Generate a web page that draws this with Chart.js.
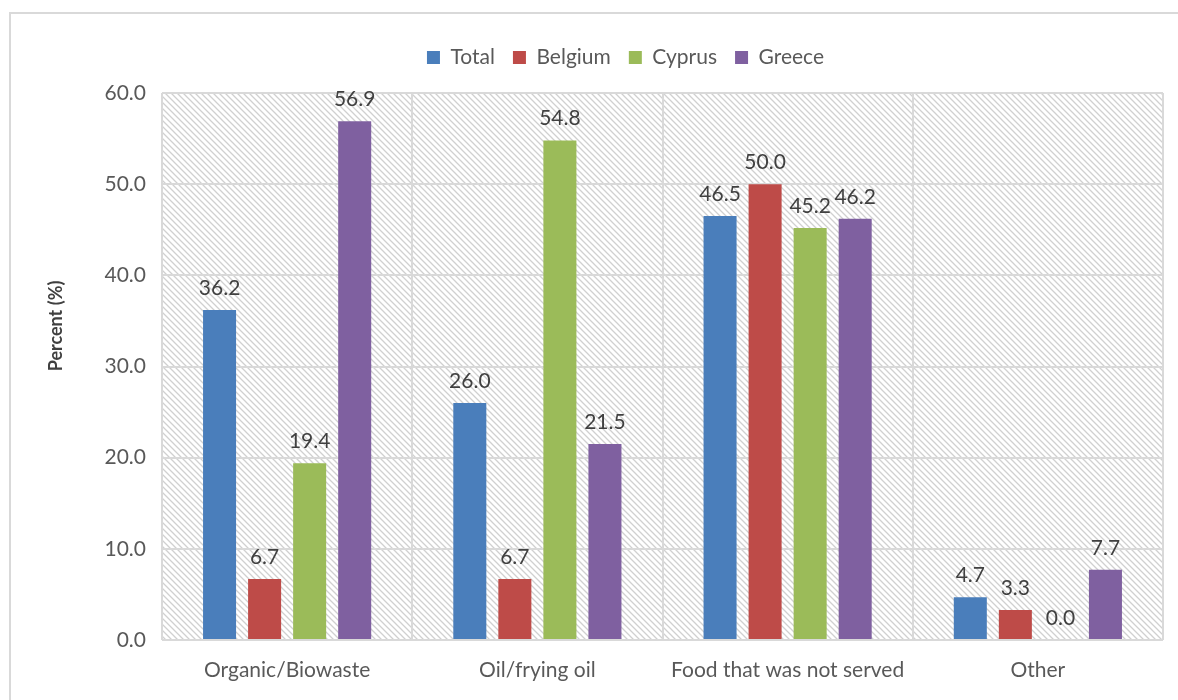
<!DOCTYPE html>
<html>
<head>
<meta charset="utf-8">
<script src="https://cdn.jsdelivr.net/npm/chart.js@4.4.0/dist/chart.umd.min.js"></script>
<style>
html,body{margin:0;padding:0;background:#fff;}
#wrap{position:relative;width:1178px;height:700px;}
#frame{position:absolute;left:9px;top:12px;width:1200px;height:800px;border:2px solid #d9d9d9;box-sizing:border-box;}
canvas{position:absolute;left:0;top:0;}
</style>
</head>
<body>
<div id="wrap"><div id="frame"></div><canvas id="c" width="1178" height="700"></canvas></div>
<script>
const categories = ["Organic/Biowaste", "Oil/frying oil", "Food that was not served", "Other"];
const totalValues = [36.2, 26.0, 46.5, 4.7];
const belgiumValues = [6.7, 6.7, 50.0, 3.3];
const cyprusValues = [19.4, 54.8, 45.2, 0.0];
const greeceValues = [56.9, 21.5, 46.2, 7.7];
const seriesNames = ["Total", "Belgium", "Cyprus", "Greece"];
const seriesColors = ["#4A7EBB", "#BE4B48", "#9BBB59", "#7F60A0"];
const yMin = 0, yMax = 60, yStep = 10;
const yTitle = "Percent (%)";

const FONT = "Lato, 'Open Sans', sans-serif";
const FS = 21;

function makeHatch(){
  const s = 6;
  const c = document.createElement('canvas');
  c.width = s; c.height = s;
  const g = c.getContext('2d');
  g.fillStyle = '#ffffff'; g.fillRect(0,0,s,s);
  g.strokeStyle = '#d0d0d0'; g.lineWidth = 1.3;
  g.beginPath();
  g.moveTo(-1,-1); g.lineTo(s+1,s+1);
  g.moveTo(-1,s-1); g.lineTo(1,s+1);
  g.moveTo(s-1,-1); g.lineTo(s+1,1);
  g.stroke();
  return c;
}

const hatchPlugin = {
  id: 'hatch',
  beforeDraw(chart){
    const {ctx, chartArea:a} = chart;
    ctx.save();
    ctx.fillStyle = ctx.createPattern(makeHatch(), 'repeat');
    ctx.fillRect(a.left, a.top, a.right-a.left, a.bottom-a.top);
    ctx.restore();
  }
};

const labelPlugin = {
  id: 'valueLabels',
  afterDatasetsDraw(chart){
    const ctx = chart.ctx;
    ctx.save();
    ctx.font = FS + "px " + FONT;
    ctx.fillStyle = '#404040';
    ctx.textAlign = 'center';
    ctx.textBaseline = 'alphabetic';
    chart.data.datasets.forEach((ds, i) => {
      const meta = chart.getDatasetMeta(i);
      meta.data.forEach((el, j) => {
        ctx.fillText(Number(ds.data[j]).toFixed(1), el.x, el.y - 15);
      });
    });
    ctx.restore();
  }
};

const yTitlePlugin = {
  id: 'yTitle',
  afterDraw(chart){
    const ctx = chart.ctx;
    ctx.save();
    ctx.translate(56, 326);
    ctx.rotate(-Math.PI/2);
    ctx.font = "bold 18px " + FONT;
    ctx.fillStyle = '#404040';
    ctx.textAlign = 'center';
    ctx.textBaseline = 'middle';
    ctx.fillText(yTitle, 0, 0);
    ctx.restore();
  }
};

const legendFitPlugin = {
  id: 'legendFit',
  afterInit(chart){
    const lg = chart.legend;
    const orig = lg.fit;
    lg.fit = function(){ orig.call(this); this.height = 64; };
  },
  afterLayout(chart){
    chart.legend.left += 44;
  }
};

const datasets = [totalValues, belgiumValues, cyprusValues, greeceValues].map((d, i) => ({
  label: seriesNames[i],
  data: d,
  backgroundColor: seriesColors[i],
  borderWidth: 0,
  categoryPercentage: 0.72,
  barPercentage: 0.733
}));

new Chart(document.getElementById('c'), {
  type: 'bar',
  data: { labels: categories, datasets },
  plugins: [hatchPlugin, labelPlugin, yTitlePlugin, legendFitPlugin],
  options: {
    responsive: false,
    animation: false,
    layout: { padding: { left: 44, right: 15, top: 29, bottom: 0 } },
    plugins: {
      legend: {
        position: 'top',
        labels: {
          boxWidth: 13, boxHeight: 13, padding: 18,
          color: '#595959',
          font: { family: FONT, size: FS }
        }
      },
      tooltip: { enabled: false }
    },
    scales: {
      x: {
        offset: true,
        grid: { offset: true, color: '#d9d9d9', lineWidth: 2, drawTicks: false },
        border: { display: false },
        ticks: { color: '#595959', font: { family: FONT, size: FS }, padding: 18 },
        afterFit(s){ s.height = 60; }
      },
      y: {
        min: yMin, max: yMax,
        ticks: { stepSize: yStep, color: '#595959', font: { family: FONT, size: FS }, padding: 16,
          callback: v => Number(v).toFixed(1) },
        grid: { color: '#d9d9d9', lineWidth: 2, drawTicks: false },
        border: { display: false },
        title: { display: false },
        afterFit(s){ s.width = 118; }
      }
    }
  }
});
</script>
</body>
</html>
